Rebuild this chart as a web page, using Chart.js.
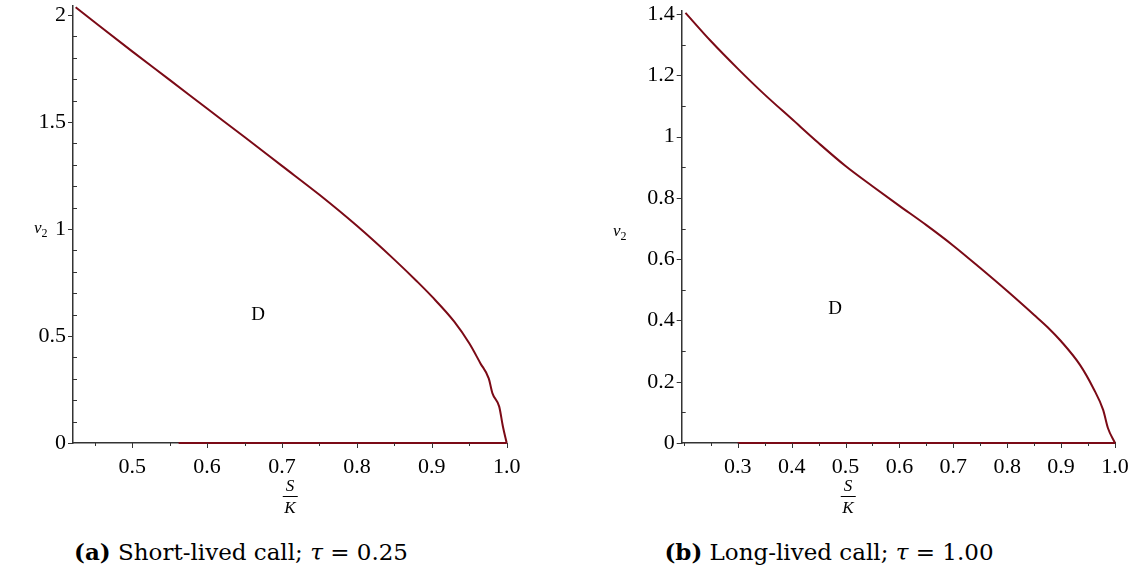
<!DOCTYPE html>
<html>
<head>
<meta charset="utf-8">
<script src="https://cdn.jsdelivr.net/npm/chart.js@4/dist/chart.umd.min.js"></script>
<style>
  body { margin: 0; background: #fff; width: 1135px; height: 584px; position: relative; overflow: hidden; font-family: "Liberation Serif", serif; color: #000; }
  canvas { position: absolute; top: 0; }
  #left { left: 0; }
  #right { left: 570px; }
  .txt { position: absolute; white-space: nowrap; }
  .ylab { font-size: 17px; font-style: italic; }
  .ylab sub { font-style: normal; font-size: 12px; }
  .frac { position: absolute; transform: translateX(-50%); display: flex; flex-direction: column; align-items: center; font-style: italic; font-size: 17px; line-height: 15px; }
  .frac .num { border-bottom: 1px solid #000; padding: 0 3px 3px; }
  .frac .den { padding-top: 3px; }
  .region { font-size: 19px; transform: translate(-50%, -50%); }
  .cap { font-family: "DejaVu Serif", serif; font-size: 23px; transform: translateX(-50%); top: 538px; }
</style>
</head>
<body>
<canvas id="left" width="520" height="492"></canvas>
<canvas id="right" width="565" height="492"></canvas>

<div class="txt ylab" style="left:34px;top:218px">v<sub>2</sub></div>
<div class="txt ylab" style="left:613px;top:221px">v<sub>2</sub></div>
<div class="frac" style="left:290px;top:478px"><span class="num">S</span><span class="den">K</span></div>
<div class="frac" style="left:848px;top:478px"><span class="num">S</span><span class="den">K</span></div>
<div class="txt region" style="left:258px;top:314px">D</div>
<div class="txt region" style="left:835px;top:308px">D</div>
<div class="txt cap" style="left:241px"><b>(a)</b> Short-lived call; <i>τ</i> = 0.25</div>
<div class="txt cap" style="left:829px"><b>(b)</b> Long-lived call; <i>τ</i> = 1.00</div>

<script>
// (a) short-lived call, tau = 0.25
const leftS = [0.4245, 0.45, 0.5, 0.55, 0.6, 0.65, 0.7, 0.75, 0.8, 0.85, 0.88, 0.9, 0.93, 0.95, 0.965, 0.976, 0.981, 0.99, 0.995, 1.0];
const leftV = [2.036, 1.966, 1.83, 1.697, 1.563, 1.43, 1.295, 1.16, 1.015, 0.857, 0.756, 0.685, 0.567, 0.466, 0.372, 0.302, 0.232, 0.17, 0.076, 0];
const leftBaseS = [0.562, 1.0];
const leftBaseV = [0, 0];
const leftXMajor = [0.5, 0.6, 0.7, 0.8, 0.9, 1.0];
const leftXMinor = [0.45, 0.55, 0.65, 0.75, 0.85, 0.95];
const leftYMajor = [0, 0.5, 1, 1.5, 2];
const leftYMinor = [0.1, 0.2, 0.3, 0.4, 0.6, 0.7, 0.8, 0.9, 1.1, 1.2, 1.3, 1.4, 1.6, 1.7, 1.8, 1.9];

// (b) long-lived call, tau = 1.00
const rightS = [0.203, 0.25, 0.3, 0.35, 0.4, 0.45, 0.5, 0.55, 0.6, 0.65, 0.7, 0.75, 0.8, 0.85, 0.875, 0.9, 0.935, 0.96, 0.978, 0.987, 1.0];
const rightV = [1.404, 1.312, 1.222, 1.137, 1.058, 0.979, 0.904, 0.838, 0.774, 0.711, 0.644, 0.571, 0.496, 0.418, 0.378, 0.332, 0.255, 0.178, 0.108, 0.048, 0];
const rightBaseS = [0.3, 1.0];
const rightBaseV = [0, 0];
const rightXMajor = [0.3, 0.4, 0.5, 0.6, 0.7, 0.8, 0.9, 1.0];
const rightXMinor = [0.2, 0.25, 0.35, 0.45, 0.55, 0.65, 0.75, 0.85, 0.95];
const rightYMajor = [0, 0.2, 0.4, 0.6, 0.8, 1, 1.2, 1.4];
const rightYMinor = [0.1, 0.3, 0.5, 0.7, 0.9, 1.1, 1.3];

const curveColor = '#7b0a16';
const axisColor = '#333';

const tickMarks = {
  id: 'tickMarks',
  afterDatasetsDraw(chart, args, opts) {
    const { ctx, scales: { x, y } } = chart;
    const bottom = y.bottom, left = x.left;
    ctx.save();
    ctx.strokeStyle = axisColor;
    ctx.lineWidth = 1;
    ctx.beginPath();
    opts.xMajor.forEach(v => { const p = Math.round(x.getPixelForValue(v)) + 0.5; ctx.moveTo(p, bottom); ctx.lineTo(p, bottom + 5); });
    opts.xMinor.forEach(v => { const p = Math.round(x.getPixelForValue(v)) + 0.5; ctx.moveTo(p, bottom); ctx.lineTo(p, bottom + 3); });
    opts.yMajor.forEach(v => { const p = Math.round(y.getPixelForValue(v)) + 0.5; ctx.moveTo(left - 5, p); ctx.lineTo(left, p); });
    opts.yMinor.forEach(v => { const p = Math.round(y.getPixelForValue(v)) + 0.5; ctx.moveTo(left, p); ctx.lineTo(left + 4, p); });
    ctx.stroke();
    ctx.restore();
  }
};

function pts(xs, ys) { return xs.map((v, i) => ({ x: v, y: ys[i] })); }

function makeChart(id, cfg) {
  const font = { family: '"Liberation Serif", serif', size: 22 };
  new Chart(document.getElementById(id), {
    type: 'scatter',
    data: {
      datasets: [
        { data: pts(cfg.s, cfg.v), showLine: true, cubicInterpolationMode: 'monotone', borderColor: curveColor, borderWidth: 2, pointRadius: 0, clip: false },
        { data: pts(cfg.baseS, cfg.baseV), showLine: true, borderColor: curveColor, borderWidth: 2, pointRadius: 0, clip: false }
      ]
    },
    options: {
      responsive: false,
      animation: false,
      layout: { padding: { top: cfg.padTop, right: cfg.padRight, left: 0, bottom: 0 } },
      plugins: { legend: { display: false }, tooltip: { enabled: false }, tickMarks: cfg.ticks },
      scales: {
        x: {
          type: 'linear', min: cfg.xMin, max: 1.0,
          grid: { drawOnChartArea: false, drawTicks: false },
          border: { color: axisColor, width: 1.5 },
          afterBuildTicks: s => { s.ticks = cfg.ticks.xMajor.map(v => ({ value: v })); },
          afterFit: s => { s.height = 49; s.paddingLeft = 0; s.paddingRight = 0; },
          ticks: { font, color: '#000', padding: 11, maxRotation: 0, autoSkip: false, callback: v => v === 1 ? '1.0' : String(v) }
        },
        y: {
          type: 'linear', min: 0, max: cfg.yMax,
          grid: { drawOnChartArea: false, drawTicks: false },
          border: { color: axisColor, width: 1.5 },
          afterBuildTicks: s => { s.ticks = cfg.ticks.yMajor.map(v => ({ value: v })); },
          afterFit: s => { s.width = cfg.yWidth; s.paddingTop = 0; s.paddingBottom = 0; },
          ticks: { font, color: '#000', padding: 7, autoSkip: false, callback: v => String(v) }
        }
      }
    },
    plugins: [tickMarks]
  });
}

makeChart('left', {
  s: leftS, v: leftV, baseS: leftBaseS, baseV: leftBaseV,
  xMin: 0.421, yMax: 2.045, yWidth: 73, padTop: 5.4, padRight: 13.3,
  ticks: { xMajor: leftXMajor, xMinor: leftXMinor, yMajor: leftYMajor, yMinor: leftYMinor }
});

makeChart('right', {
  s: rightS, v: rightV, baseS: rightBaseS, baseV: rightBaseV,
  xMin: 0.196, yMax: 1.41, yWidth: 111.7, padTop: 11, padRight: 20,
  ticks: { xMajor: rightXMajor, xMinor: rightXMinor, yMajor: rightYMajor, yMinor: rightYMinor }
});
</script>
</body>
</html>
